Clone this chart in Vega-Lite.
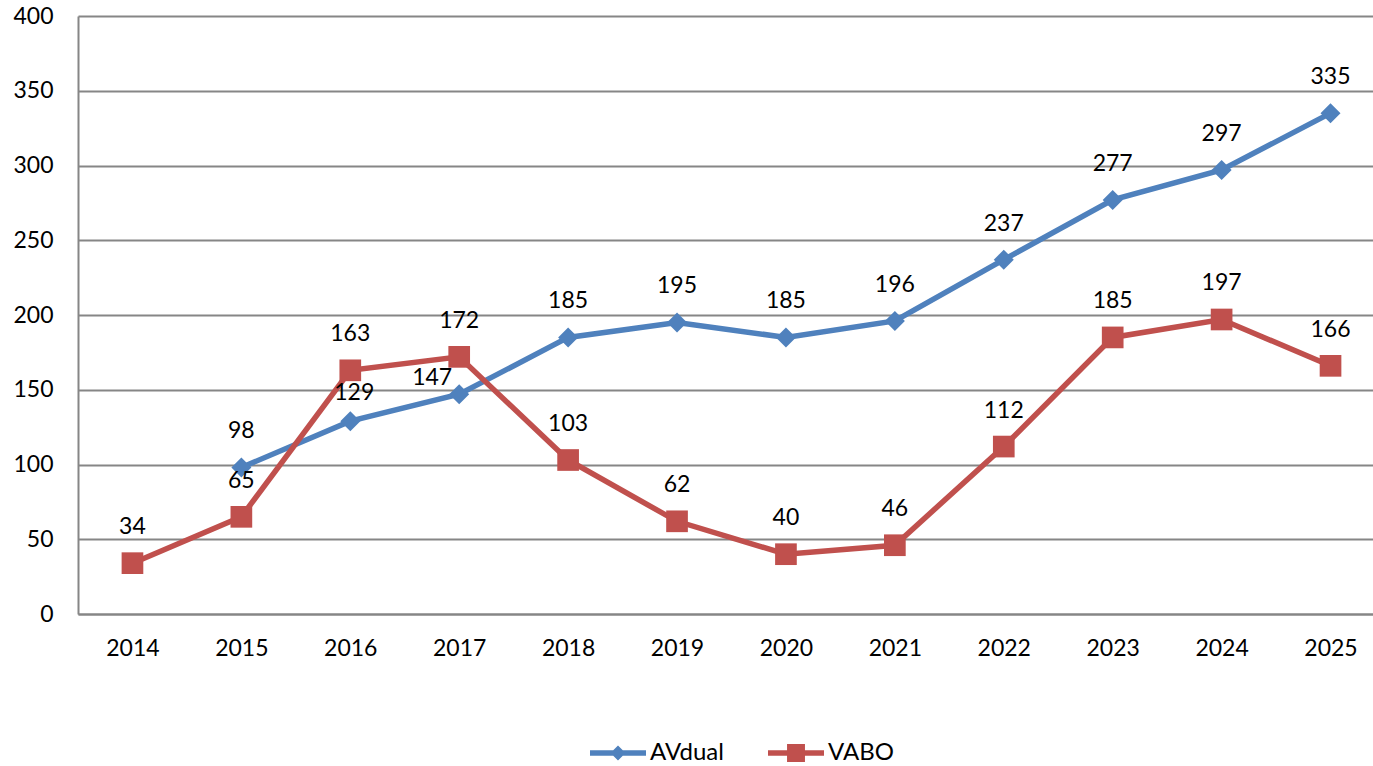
{
  "$schema": "https://vega.github.io/schema/vega-lite/v6.json",
  "width": 1295,
  "height": 598,
  "autosize": {"type": "none"},
  "padding": {"left": 78, "top": 16, "right": 0, "bottom": 152},
  "background": "white",
  "config": {"view": {"stroke": null}, "font": "Lato"},
  "data": {
    "values": [
      {"year": 2015, "series": "AVdual", "value": 98},
      {"year": 2016, "series": "AVdual", "value": 129},
      {"year": 2017, "series": "AVdual", "value": 147},
      {"year": 2018, "series": "AVdual", "value": 185},
      {"year": 2019, "series": "AVdual", "value": 195},
      {"year": 2020, "series": "AVdual", "value": 185},
      {"year": 2021, "series": "AVdual", "value": 196},
      {"year": 2022, "series": "AVdual", "value": 237},
      {"year": 2023, "series": "AVdual", "value": 277},
      {"year": 2024, "series": "AVdual", "value": 297},
      {"year": 2025, "series": "AVdual", "value": 335},
      {"year": 2014, "series": "VABO", "value": 34},
      {"year": 2015, "series": "VABO", "value": 65},
      {"year": 2016, "series": "VABO", "value": 163},
      {"year": 2017, "series": "VABO", "value": 172},
      {"year": 2018, "series": "VABO", "value": 103},
      {"year": 2019, "series": "VABO", "value": 62},
      {"year": 2020, "series": "VABO", "value": 40},
      {"year": 2021, "series": "VABO", "value": 46},
      {"year": 2022, "series": "VABO", "value": 112},
      {"year": 2023, "series": "VABO", "value": 185},
      {"year": 2024, "series": "VABO", "value": 197},
      {"year": 2025, "series": "VABO", "value": 166}
    ]
  },
  "encoding": {
    "x": {
      "field": "year",
      "type": "quantitative",
      "scale": {"domain": [2013.5, 2025.39], "nice": false, "zero": false},
      "axis": {
        "values": [2014, 2015, 2016, 2017, 2018, 2019, 2020, 2021, 2022, 2023, 2024, 2025],
        "format": "d",
        "grid": false,
        "ticks": false,
        "domain": true,
        "domainColor": "#868686",
        "domainWidth": 2,
        "labelFontSize": 23,
        "labelFont": "Lato",
        "labelColor": "#000000",
        "labelPadding": 23,
        "title": null
      }
    },
    "y": {
      "field": "value",
      "type": "quantitative",
      "scale": {"domain": [0, 400], "nice": false},
      "axis": {
        "values": [0, 50, 100, 150, 200, 250, 300, 350, 400],
        "grid": true,
        "gridColor": "#868686",
        "gridWidth": 2,
        "ticks": false,
        "domain": true,
        "domainColor": "#868686",
        "domainWidth": 2,
        "labelFontSize": 23,
        "labelFont": "Lato",
        "labelColor": "#000000",
        "labelPadding": 25,
        "title": null
      }
    },
    "color": {
      "field": "series",
      "type": "nominal",
      "scale": {"domain": ["AVdual", "VABO"], "range": ["#4F81BD", "#C0504D"]},
      "legend": {
        "orient": "none",
        "legendX": 512,
        "legendY": 709,
        "direction": "horizontal",
        "title": null,
        "symbolType": "square",
        "symbolSize": 3136,
        "symbolStrokeWidth": 0,
        "labelFontSize": 24,
        "labelFont": "Lato",
        "labelColor": "#000000",
        "labelOffset": 4,
        "columnPadding": 44,
        "encode": {
          "symbols": {
            "update": {
              "shape": {"signal": "datum.value === 'AVdual' ? 'M-1,-0.1H1V0.1H-1Z M-0.27,0L0,-0.27L0.27,0L0,0.27Z' : 'M-1,-0.1H1V0.1H-1Z M-0.32,-0.32H0.32V0.32H-0.32Z'"},
              "fill": {"signal": "datum.value === 'AVdual' ? '#4F81BD' : '#C0504D'"},
              "opacity": {"value": 1}
            }
          }
        }
      }
    }
  },
  "layer": [
    {
      "mark": {"type": "line", "strokeWidth": 5.5},
      "encoding": {}
    },
    {
      "transform": [{"filter": "datum.series === 'AVdual'"}],
      "mark": {"type": "point", "shape": "diamond", "filled": true, "opacity": 1, "size": 400},
      "encoding": {}
    },
    {
      "transform": [{"filter": "datum.series === 'VABO'"}],
      "mark": {"type": "point", "shape": "square", "filled": true, "opacity": 1, "size": 470},
      "encoding": {}
    },
    {
      "transform": [{"filter": "!(datum.series === 'AVdual' && (datum.year === 2016 || datum.year === 2017))"}],
      "mark": {"type": "text", "dy": -36, "fontSize": 23, "font": "Lato", "baseline": "middle", "align": "center"},
      "encoding": {
        "text": {"field": "value", "type": "quantitative"},
        "color": {"value": "#000000"}
      }
    },
    {
      "transform": [{"filter": "datum.series === 'AVdual' && datum.year === 2016"}],
      "mark": {"type": "text", "dy": -28, "dx": 4, "fontSize": 23, "font": "Lato", "baseline": "middle", "align": "center"},
      "encoding": {
        "text": {"field": "value", "type": "quantitative"},
        "color": {"value": "#000000"}
      }
    },
    {
      "transform": [{"filter": "datum.series === 'AVdual' && datum.year === 2017"}],
      "mark": {"type": "text", "dy": -16, "dx": -27, "fontSize": 23, "font": "Lato", "baseline": "middle", "align": "center"},
      "encoding": {
        "text": {"field": "value", "type": "quantitative"},
        "color": {"value": "#000000"}
      }
    }
  ]
}
